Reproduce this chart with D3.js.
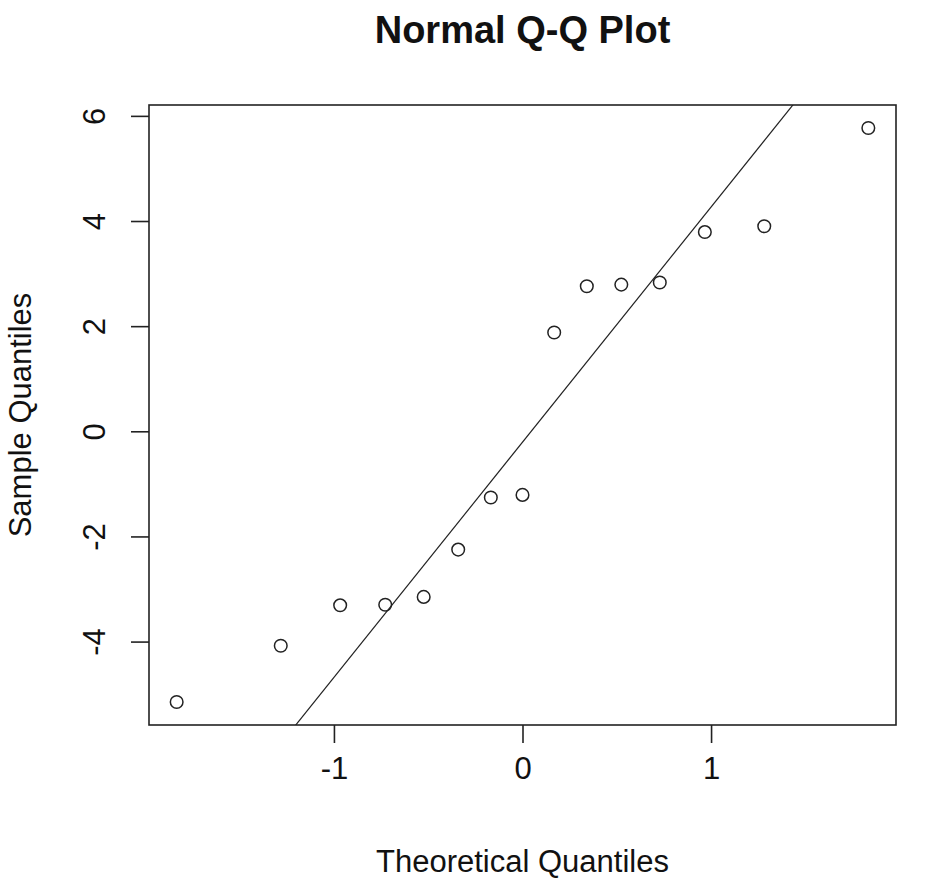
<!DOCTYPE html>
<html>
<head>
<meta charset="utf-8">
<script src="https://cdn.jsdelivr.net/npm/d3@7"></script>
<style>
  body { margin: 0; background: #fff; }
  text { font-family: "Liberation Sans", Arial, sans-serif; fill: #111; }
</style>
</head>
<body>
<script>
(function(){

    // theoretical quantiles (normal scores for n = 15)
    var theoretical = [-1.834, -1.282, -0.967, -0.728, -0.524, -0.341, -0.168, 0,
                       0.168, 0.341, 0.524, 0.728, 0.967, 1.282, 1.834];
    // sample quantiles
    var sample = [-5.15, -4.08, -3.31, -3.30, -3.15, -2.25, -1.26, -1.21,
                  1.88, 2.76, 2.79, 2.83, 3.79, 3.90, 5.77];
    var xTicks = [-1, 0, 1];
    var yTicks = [-4, -2, 0, 2, 4, 6];

    var width = 937,
        height = 888,
        margin = {top: 105, right: 41, bottom: 163, left: 149};

    var svg = d3.select("body")
        .append("svg")
        .attr("width", width)
        .attr("height", height);

    // R style 4% axis extension
    function pad(ext){
        var d = (ext[1] - ext[0]) * 0.04;
        return [ext[0] - d, ext[1] + d];
    }

    // plain hyphen for negatives, like R
    var fmt = d => String(d);

    var x = d3.scaleLinear()
        .domain(pad(d3.extent(theoretical)))
        .range([margin.left, width - margin.right]);

    var y = d3.scaleLinear()
        .domain(pad(d3.extent(sample)))
        .range([height - margin.bottom, margin.top]);

    var points = theoretical.map((t, i) => ({t: t, s: sample[i]}));

    // qqline through the quartiles
    var sorted = sample.slice().sort(d3.ascending);
    var q1 = d3.quantile(sorted, 0.25),
        q3 = d3.quantile(sorted, 0.75),
        z = 0.6744898;
    var slope = (q3 - q1) / (2 * z),
        intercept = q1 + slope * z;

    svg.append("clipPath")
        .attr("id", "plotclip")
        .append("rect")
        .attr("x", margin.left)
        .attr("y", margin.top)
        .attr("width", width - margin.left - margin.right)
        .attr("height", height - margin.top - margin.bottom);

    var xd = x.domain();
    svg.append("line")
        .attr("clip-path", "url(#plotclip)")
        .attr("x1", x(xd[0] - 1))
        .attr("y1", y(intercept + slope * (xd[0] - 1)))
        .attr("x2", x(xd[1] + 1))
        .attr("y2", y(intercept + slope * (xd[1] + 1)))
        .style("stroke", "#222")
        .style("stroke-width", 1.2);

    svg.selectAll(".pt")
        .data(points)
        .enter()
        .append("circle")
        .attr("class", "pt")
        .attr("cx", d => x(d.t))
        .attr("cy", d => y(d.s))
        .attr("r", 6.3)
        .style("fill", "none")
        .style("stroke", "#222")
        .style("stroke-width", 1.5);

    // box
    svg.append("rect")
        .attr("x", margin.left)
        .attr("y", margin.top)
        .attr("width", width - margin.left - margin.right)
        .attr("height", height - margin.top - margin.bottom)
        .style("fill", "none")
        .style("stroke", "#222")
        .style("stroke-width", 1.6);

    // x axis
    var xAxis = svg.append("g")
        .attr("class", "axis")
        .attr("transform", `translate(0, ${height - margin.bottom})`)
        .call(d3.axisBottom(x).tickValues(xTicks).tickSize(18).tickPadding(14).tickFormat(fmt));
    xAxis.select(".domain").remove();
    xAxis.selectAll("line").style("stroke", "#222").style("stroke-width", 1.6);
    xAxis.selectAll("text")
        .style("font-size", "31px")
        .style("font-family", "'Liberation Sans', Arial, sans-serif")
        .attr("fill", "#111");

    // y axis
    var yAxis = svg.append("g")
        .attr("class", "axis")
        .attr("transform", `translate(${margin.left}, 0)`)
        .call(d3.axisLeft(y).tickValues(yTicks).tickSize(18).tickFormat(fmt));
    yAxis.select(".domain").remove();
    yAxis.selectAll("line").style("stroke", "#222").style("stroke-width", 1.6);
    yAxis.selectAll("text")
        .attr("x", null)
        .attr("dy", null)
        .attr("transform", "translate(-44, 0) rotate(-90)")
        .attr("text-anchor", "middle")
        .style("font-size", "31px")
        .style("font-family", "'Liberation Sans', Arial, sans-serif")
        .attr("fill", "#111");

    // titles
    svg.append("text")
        .attr("x", (margin.left + width - margin.right) / 2)
        .attr("y", 43)
        .attr("text-anchor", "middle")
        .style("font-size", "38px")
        .style("font-weight", "bold")
        .text("Normal Q-Q Plot");

    svg.append("text")
        .attr("x", (margin.left + width - margin.right) / 2)
        .attr("y", 872)
        .attr("text-anchor", "middle")
        .style("font-size", "31px")
        .text("Theoretical Quantiles");

    svg.append("text")
        .attr("transform", `translate(31, ${(margin.top + height - margin.bottom) / 2}) rotate(-90)`)
        .attr("text-anchor", "middle")
        .style("font-size", "31px")
        .text("Sample Quantiles");

})();
</script>
</body>
</html>
